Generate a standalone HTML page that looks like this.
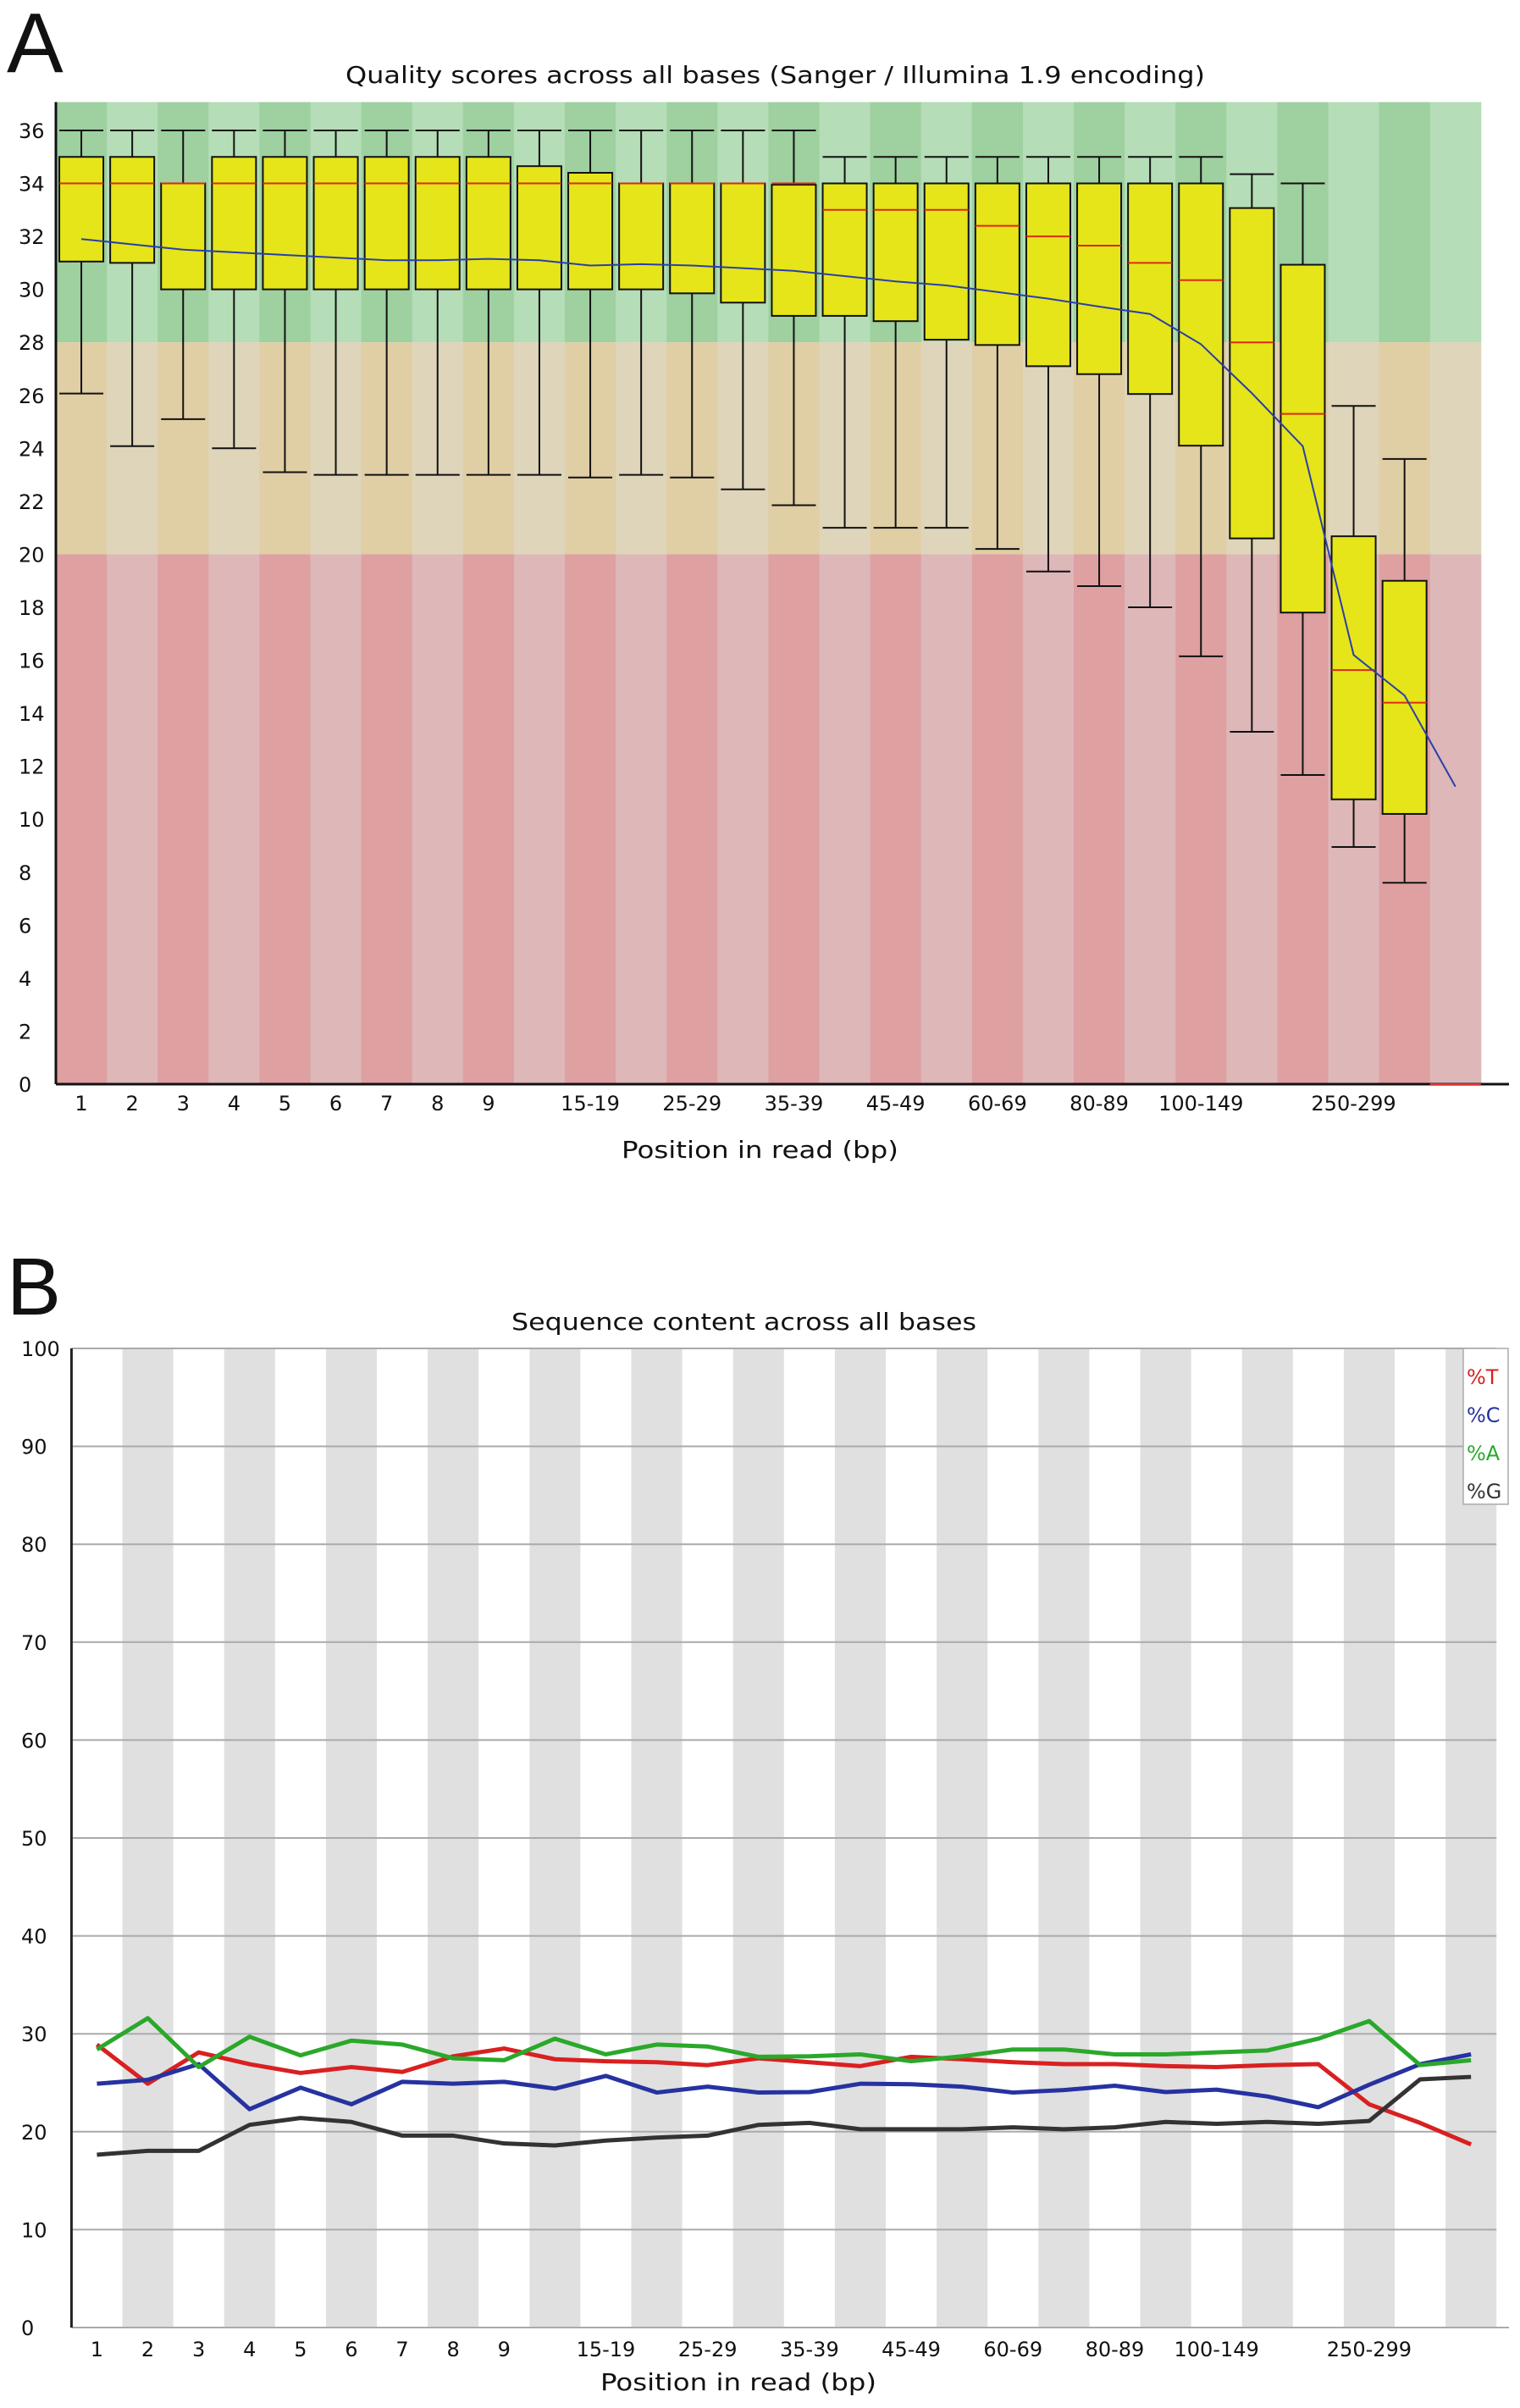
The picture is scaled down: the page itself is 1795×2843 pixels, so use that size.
<!DOCTYPE html>
<html><head><meta charset="utf-8">
<style>
html,body{margin:0;padding:0;background:#fff;}
svg{display:block;font-family:"DejaVu Sans","Liberation Sans",sans-serif;}
</style></head>
<body>
<svg id="fig" width="1795" height="2843" viewBox="0 0 1795 2843" xmlns="http://www.w3.org/2000/svg">
<text x="8" y="85" font-family="Liberation Sans, sans-serif" font-size="100" fill="#111">A</text>
<text x="408" y="98" font-size="28" textLength="1015" lengthAdjust="spacingAndGlyphs" fill="#111">Quality scores across all bases (Sanger / Illumina 1.9 encoding)</text>
<g id="chartA"></g>
<text x="734" y="1367" font-size="28" textLength="327" lengthAdjust="spacingAndGlyphs" fill="#111">Position in read (bp)</text>

<text x="8" y="1552" font-family="Liberation Sans, sans-serif" font-size="96" fill="#111">B</text>
<text x="604" y="1570" font-size="28" textLength="549" lengthAdjust="spacingAndGlyphs" fill="#111">Sequence content across all bases</text>
<g id="chartB"></g>
<text x="709" y="2822" font-size="28" textLength="326" lengthAdjust="spacingAndGlyphs" fill="#111">Position in read (bp)</text>
</svg>
<script>
// ---------- Chart A data ----------
const catsA = ["1","2","3","4","5","6","7","8","9","10-14","15-19","20-24","25-29","30-34","35-39","40-44","45-49","50-59","60-69","70-79","80-89","90-99","100-149","150-199","200-249","250-299","300-301","302"];
const showLabel = ["1","2","3","4","5","6","7","8","9","15-19","25-29","35-39","45-49","60-69","80-89","100-149","250-299"];
const whiskHigh = [36,36,36,36,36,36,36,36,36,36,36,36,36,36,36,35,35,35,35,35,35,35,35,34.35,34,25.6,23.6,null];
const boxTop    = [35,35,34,35,35,35,35,35,35,34.65,34.4,34,34,34,33.95,34,34,34,34,34,34,34,34,33.07,30.93,20.68,19.0,null];
const medians   = [34,34,34,34,34,34,34,34,34,34,34,34,34,34,34,33,33,33,32.4,32,31.65,31,30.35,28,25.3,15.63,14.4,null];
const boxBottom = [31.05,31,30,30,30,30,30,30,30,30,30,30,29.85,29.5,29,29,28.8,28.1,27.9,27.1,26.8,26.05,24.1,20.6,17.8,10.75,10.2,null];
const whiskLow  = [26.07,24.08,25.1,24,23.1,23,23,23,23,23,22.9,23,22.9,22.45,21.85,21,21,21,20.2,19.35,18.8,18,16.15,13.3,11.67,8.95,7.6,null];
const means     = [31.9,31.7,31.5,31.4,31.3,31.2,31.1,31.1,31.15,31.1,30.9,30.95,30.9,30.8,30.7,30.5,30.3,30.15,29.9,29.65,29.35,29.07,27.93,26.08,24.08,16.2,14.67,11.23];
const yTicksA = [0,2,4,6,8,10,12,14,16,18,20,22,24,26,28,30,32,34,36];

// ---------- Chart B data ----------
const catsB = catsA;
const pctT = [28.9,24.9,28.1,26.9,26.0,26.6,26.1,27.7,28.5,27.4,27.2,27.1,26.8,27.5,27.1,26.7,27.65,27.4,27.1,26.9,26.9,26.7,26.6,26.8,26.9,22.8,20.9,18.7];
const pctC = [24.9,25.3,26.9,22.3,24.5,22.8,25.1,24.9,25.1,24.4,25.7,24.0,24.6,24.0,24.05,24.9,24.85,24.6,24.0,24.25,24.7,24.05,24.3,23.6,22.5,24.8,26.9,27.9];
const pctA = [28.4,31.6,26.6,29.7,27.8,29.3,28.9,27.5,27.3,29.5,27.9,28.9,28.7,27.65,27.7,27.9,27.2,27.7,28.4,28.4,27.9,27.9,28.1,28.3,29.5,31.3,26.8,27.3];
const pctG = [17.65,18.05,18.05,20.7,21.4,21.0,19.6,19.6,18.8,18.6,19.1,19.4,19.6,20.7,20.9,20.25,20.25,20.25,20.45,20.25,20.45,21.0,20.8,21.0,20.8,21.1,25.35,25.6];
const seriesNames = ["%T","%C","%A","%G"];
const yTicksB = [0,10,20,30,40,50,60,70,80,90,100];

const NS = "http://www.w3.org/2000/svg";
function mk(parent, tag, attrs){ const e=document.createElementNS(NS,tag); for(const k in attrs) e.setAttribute(k,attrs[k]); parent.appendChild(e); return e; }

// ---------- draw A ----------
(function(){
  const g = document.getElementById('chartA');
  const L=66, T=120.5, W=60.1, N=catsA.length, Y0=1280, YMAX=37.07;
  const R = L + N*W;
  const y = v => Y0 - v*(Y0-T)/YMAX;
  const xc = i => L + (i+0.5)*W;
  const bands = [[28,YMAX,'#9ed0a0','#b5ddb7'],[20,28,'#e0cea5','#ded5ba'],[0,20,'#dea0a1','#deb7b9']];
  for (let i=0;i<N;i++){
    for (const b of bands){
      const r = mk(g,'rect',{x:L+i*W,y:y(b[1]),width:W+0.5,height:y(b[0])-y(b[1]),fill:(i%2===0?b[2]:b[3])});
      
      
    }
  }
  for (let i=0;i<N;i++){
    if (boxTop[i]===null) continue;
    const cx=xc(i), hw=26;
    const wg = mk(g,'g',{});
    
    
    mk(wg,'line',{x1:cx,x2:cx,y1:y(whiskHigh[i]),y2:y(whiskLow[i]),stroke:'#111','stroke-width':2});
    mk(wg,'line',{x1:cx-hw,x2:cx+hw,y1:y(whiskHigh[i]),y2:y(whiskHigh[i]),stroke:'#111','stroke-width':2});
    mk(wg,'line',{x1:cx-hw,x2:cx+hw,y1:y(whiskLow[i]),y2:y(whiskLow[i]),stroke:'#111','stroke-width':2});
    mk(wg,'rect',{x:cx-hw,y:y(boxTop[i]),width:2*hw,height:y(boxBottom[i])-y(boxTop[i]),fill:'#e5e51a',stroke:'#111','stroke-width':2});
    mk(wg,'line',{x1:cx-hw,x2:cx+hw,y1:y(medians[i]),y2:y(medians[i]),stroke:'#dd2a10','stroke-width':2});
  }
  const pts = means.map((v,i)=>xc(i)+','+y(v)).join(' ');
  const ml = mk(g,'polyline',{points:pts,fill:'none',stroke:'#2a3fa8','stroke-width':2});
  
  
  const ya = mk(g,'line',{x1:L,x2:L,y1:T,y2:Y0,stroke:'#111','stroke-width':3});
  
  
  const xa = mk(g,'line',{x1:L,x2:1782,y1:Y0,y2:Y0,stroke:'#111','stroke-width':3});
  
  
  mk(g,'line',{x1:L+(N-1)*W,x2:R,y1:Y0,y2:Y0,stroke:'#d33','stroke-width':2});
  for (const t of yTicksA){
    const tx = mk(g,'text',{x:22,y:y(t)+9,'font-size':24,fill:'#111'});
    tx.textContent = t;
    
    
  }
  catsA.forEach((c,i)=>{
    if (!showLabel.includes(c)) return;
    const tx = mk(g,'text',{x:xc(i),y:1311,'font-size':24,fill:'#111','text-anchor':'middle'});
    tx.textContent = c;
    
    
  });
})();

// ---------- draw B ----------
(function(){
  const g = document.getElementById('chartB');
  const L=84.4, W=60.1, N=catsB.length, Y0=2748, T=1592, YMAX=100;
  const R = L + N*W;
  const y = v => Y0 - v*(Y0-T)/YMAX;
  const xc = i => L + (i+0.5)*W;
  for (let i=0;i<N;i++){
    if (i%2===1){
      const r = mk(g,'rect',{x:L+i*W,y:T,width:W,height:Y0-T,fill:'#e0e0e0'});
      
      
    }
  }
  for (const t of yTicksB){
    const gl = mk(g,'line',{x1:L,x2:(t===0?1782:R),y1:y(t),y2:y(t),stroke:'#aaa','stroke-width':2});
    
    
    const tx = mk(g,'text',{x:25,y:y(t)+9,'font-size':24,fill:'#111'});
    tx.textContent = t;
    
    
  }
  const ya = mk(g,'line',{x1:L,x2:L,y1:T,y2:Y0,stroke:'#222','stroke-width':3});
  
  
  const colors = ['#d92020','#2632a0','#2aa82a','#333333'];
  [pctT,pctC,pctA,pctG].forEach((arr,k)=>{
    const pl = mk(g,'polyline',{points:arr.map((v,i)=>xc(i)+','+y(v)).join(' '),fill:'none',stroke:colors[k],'stroke-width':5,'stroke-linejoin':'round'});
    
    
  });
  catsB.forEach((c,i)=>{
    if (!showLabel.includes(c)) return;
    const tx = mk(g,'text',{x:xc(i),y:2782,'font-size':24,fill:'#111','text-anchor':'middle'});
    tx.textContent = c;
    
    
  });
  const lg = mk(g,'g',{});
  
  
  mk(lg,'rect',{x:1728,y:1592,width:53,height:184,fill:'#fff',stroke:'#aaa','stroke-width':1.5});
  seriesNames.forEach((s,k)=>{
    const tx = mk(lg,'text',{x:1732,y:1634+k*45,'font-size':24,fill:colors[k]});
    tx.textContent = s;
    
    
  });
})();
</script>
</body></html>
